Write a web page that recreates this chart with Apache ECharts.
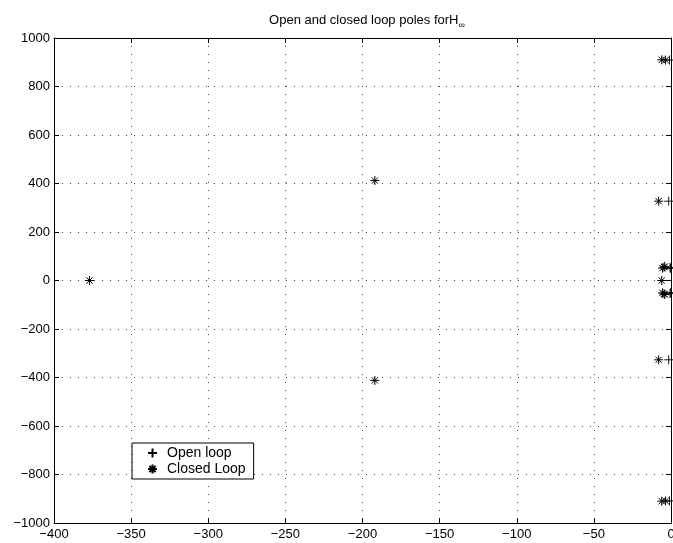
<!DOCTYPE html>
<html>
<head>
<meta charset="utf-8">
<script src="https://cdn.jsdelivr.net/npm/echarts@6/dist/echarts.min.js"></script>
<style>
  html, body { margin: 0; padding: 0; background: #fff; }
  #chart { width: 673px; height: 543px; }
</style>
</head>
<body>
<div id="chart"></div>
<script>
// Pole locations (real part, imaginary part)
const openRe   = [-1, -1, -1.5, -1.5, -0.6, -0.6, -0.4, -0.4];
const openIm   = [909, -909, 327, -327, 54, -54, 50, -50];
const closedRe = [-377, -192, -192, -6, -6, -3.5, -3.5, -8, -8, -4.5, -4.5, -5.5, -5.5, -4, -4, -6];
const closedIm = [0, 412, -412, 910, -910, 909, -909, 327, -327, 55, -55, 51, -51, 58, -58, 0];

const xTicks = { min: -400, max: 0, step: 50 };
const yTicks = { min: -1000, max: 1000, step: 200 };

const seriesNames = ['Open loop', 'Closed Loop'];

const toPairs = (re, im) => re.map((r, i) => [r, im[i]]);

const plusPath = 'path://M0,5 L10,5 M5,0 L5,10';
const starPath = 'path://M0,5 L10,5 M5,0 L5,10 M1.5,1.5 L8.5,8.5 M1.5,8.5 L8.5,1.5';

const font = 'Liberation Sans, Arial, Helvetica, sans-serif';
const fmt = v => String(v).replace('-', '\u2212');

const gridLine = { show: true, lineStyle: { color: '#444', width: 1, type: [1, 7] } };
const frameLine = { show: true, onZero: false, lineStyle: { color: '#000', width: 1 } };
const tick = { show: true, inside: true, length: 5, lineStyle: { color: '#000' } };

const chart = echarts.init(document.getElementById('chart'), null, { renderer: 'canvas' });

chart.setOption({
  animation: false,
  backgroundColor: '#fff',
  title: {
    text: 'Open and closed loop poles forH{sub|∞}',
    left: 362, top: 6, textAlign: 'center',
    textStyle: {
      fontFamily: font, fontSize: 13, fontWeight: 'normal', color: '#000',
      rich: { sub: { fontFamily: font, fontSize: 9, color: '#000', padding: [10, 0, 0, 0] } }
    }
  },
  legend: {
    left: 132, top: 443, orient: 'vertical',
    data: seriesNames,
    backgroundColor: '#fff',
    borderColor: '#000', borderWidth: 1,
    padding: [3, 8, 3, 15],
    itemGap: 2, itemWidth: 9, itemHeight: 9,
    textStyle: { fontFamily: font, fontSize: 14, color: '#000', padding: [0, 0, 0, 5] }
  },
  grid: { left: 54, right: 2, top: 38, bottom: 20, show: false, containLabel: false, outerBoundsMode: 'none' },
  xAxis: [{
    type: 'value', min: xTicks.min, max: xTicks.max, interval: xTicks.step,
    axisLine: frameLine, axisTick: tick,
    axisLabel: { fontFamily: font, fontSize: 13, color: '#000', margin: 5, formatter: fmt },
    splitLine: gridLine
  }, {
    type: 'value', position: 'top', min: xTicks.min, max: xTicks.max, interval: xTicks.step,
    axisLine: frameLine, axisTick: tick,
    axisLabel: { show: false }, splitLine: { show: false }
  }],
  yAxis: [{
    type: 'value', min: yTicks.min, max: yTicks.max, interval: yTicks.step,
    axisLine: frameLine, axisTick: tick,
    axisLabel: { fontFamily: font, fontSize: 13, color: '#000', margin: 4, formatter: fmt },
    splitLine: gridLine
  }, {
    type: 'value', position: 'right', min: yTicks.min, max: yTicks.max, interval: yTicks.step,
    axisLine: frameLine, axisTick: tick,
    axisLabel: { show: false }, splitLine: { show: false }
  }],
  series: [{
    name: seriesNames[0], type: 'scatter',
    data: toPairs(openRe, openIm),
    symbol: plusPath, symbolSize: 9,
    itemStyle: { color: 'rgba(0,0,0,0)', borderColor: '#000', borderWidth: 0.9, opacity: 1 },
    emphasis: { disabled: true }, clip: false, z: 3
  }, {
    name: seriesNames[1], type: 'scatter',
    data: toPairs(closedRe, closedIm),
    symbol: starPath, symbolSize: 9,
    itemStyle: { color: 'rgba(0,0,0,0)', borderColor: '#000', borderWidth: 1, opacity: 1 },
    emphasis: { disabled: true }, clip: false, z: 4
  }]
});
</script>
</body>
</html>
